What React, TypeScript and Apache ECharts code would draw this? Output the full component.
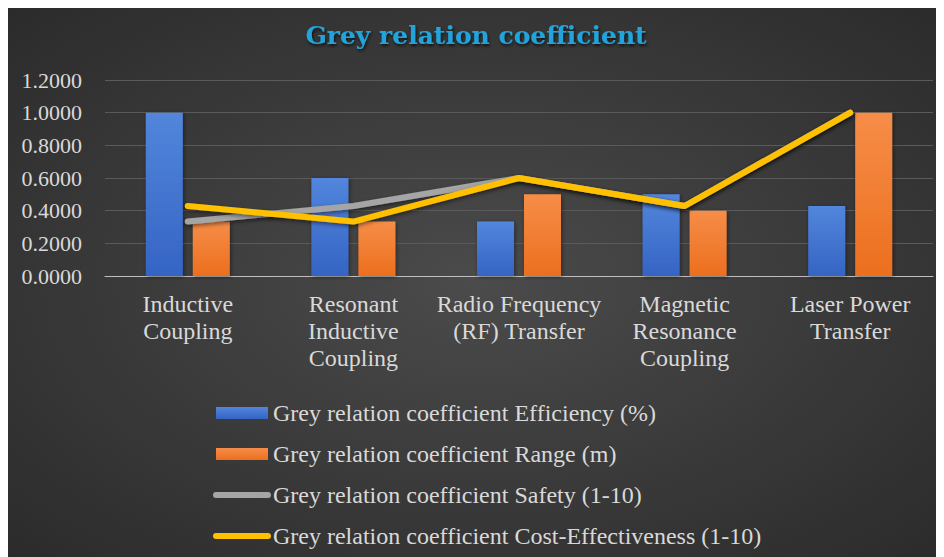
import React, { useEffect, useRef } from "react";
import * as echarts from "echarts";

const categories = [
  "Inductive\nCoupling",
  "Resonant\nInductive\nCoupling",
  "Radio Frequency\n(RF) Transfer",
  "Magnetic\nResonance\nCoupling",
  "Laser Power\nTransfer",
];
const seriesNames = [
  "Grey relation coefficient Efficiency (%)",
  "Grey relation coefficient Range (m)",
  "Grey relation coefficient Safety (1-10)",
  "Grey relation coefficient Cost-Effectiveness (1-10)",
];
const efficiency = [1.0, 0.6, 0.3333, 0.5, 0.4286];
const range = [0.3333, 0.3333, 0.5, 0.4, 1.0];
const safety = [0.3333, 0.4286, 0.6, 0.4286, 1.0];
const costEffectiveness = [0.4286, 0.3333, 0.6, 0.4286, 1.0];
const yTicks = { min: 0, max: 1.2, interval: 0.2 };

const FONT = "'Liberation Serif', 'Times New Roman', serif";

export default function App() {
  const ref = useRef<HTMLDivElement>(null);
  useEffect(() => {
    if (!ref.current) return;
    const chart = echarts.init(ref.current, null, { renderer: "svg" });
    const barGrad = (top: string, bottom: string) =>
      new echarts.graphic.LinearGradient(0, 0, 0, 1, [
        { offset: 0, color: top },
        { offset: 1, color: bottom },
      ]);
    chart.setOption({
      animation: false,
      backgroundColor: {
        type: "radial",
        x: 0.5,
        y: 0.5,
        r: 0.75,
        colorStops: [
          { offset: 0, color: "#4b4b4b" },
          { offset: 1, color: "#292929" },
        ],
      },
      title: {
        text: "Grey relation coefficient",
        left: "center",
        top: 10,
        textStyle: {
          fontFamily: "'DejaVu Serif', serif",
          fontWeight: "bold",
          fontSize: 25,
          color: "#22a3dc",
          textShadowColor: "rgba(0,0,0,0.7)",
          textShadowBlur: 3,
          textShadowOffsetX: 1,
          textShadowOffsetY: 2,
        },
      },
      grid: { left: 97, width: 828, top: 72, height: 196, containLabel: false },
      legend: {
        orient: "vertical",
        left: 205,
        top: 393,
        padding: 0,
        itemWidth: 52,
        itemHeight: 12,
        itemGap: 17,
        textStyle: { color: "#d9d9d9", fontFamily: FONT, fontSize: 24, lineHeight: 22 },
        data: [
          { name: seriesNames[0], icon: "rect" },
          { name: seriesNames[1], icon: "rect" },
          { name: seriesNames[2], itemStyle: { opacity: 0 }, lineStyle: { width: 6, cap: "round" } },
          { name: seriesNames[3], itemStyle: { opacity: 0 }, lineStyle: { width: 6, cap: "round" } },
        ],
      },
      xAxis: {
        type: "category",
        data: categories,
        axisLine: { lineStyle: { color: "#bfbfbf", width: 1 } },
        axisTick: { show: false },
        axisLabel: {
          color: "#d9d9d9",
          fontFamily: FONT,
          fontSize: 24,
          lineHeight: 27,
          margin: 14,
          interval: 0,
        },
      },
      yAxis: {
        type: "value",
        min: yTicks.min,
        max: yTicks.max,
        interval: yTicks.interval,
        axisLine: { show: false },
        axisTick: { show: false },
        splitLine: { lineStyle: { color: "#5a5a5a", width: 1 } },
        axisLabel: {
          color: "#d9d9d9",
          fontFamily: FONT,
          fontSize: 22,
          margin: 23,
          formatter: (v: number) => v.toFixed(4),
        },
      },
      series: [
        {
          name: seriesNames[0],
          type: "bar",
          data: efficiency,
          barWidth: 37,
          barGap: "27%",
          itemStyle: {
            color: barGrad("#5286dc", "#3564c4"),
            shadowColor: "rgba(0,0,0,0.45)",
            shadowBlur: 4,
            shadowOffsetX: 1,
            shadowOffsetY: 1,
          },
        },
        {
          name: seriesNames[1],
          type: "bar",
          data: range,
          barWidth: 37,
          barGap: "27%",
          itemStyle: {
            color: barGrad("#f68d48", "#ec6f1e"),
            shadowColor: "rgba(0,0,0,0.45)",
            shadowBlur: 4,
            shadowOffsetX: 1,
            shadowOffsetY: 1,
          },
        },
        {
          name: seriesNames[2],
          type: "line",
          data: safety,
          symbol: "none",
          color: "#a5a5a5",
          lineStyle: {
            color: "#a5a5a5",
            width: 6,
            cap: "round",
            shadowColor: "rgba(0,0,0,0.5)",
            shadowBlur: 4,
            shadowOffsetY: 2,
          },
        },
        {
          name: seriesNames[3],
          type: "line",
          data: costEffectiveness,
          symbol: "none",
          color: "#ffc000",
          lineStyle: {
            color: "#ffc000",
            width: 6,
            cap: "round",
            shadowColor: "rgba(0,0,0,0.5)",
            shadowBlur: 4,
            shadowOffsetY: 2,
          },
        },
      ],
    });
    return () => chart.dispose();
  }, []);
  return <div ref={ref} style={{ width: 936, height: 549 }} />;
}
